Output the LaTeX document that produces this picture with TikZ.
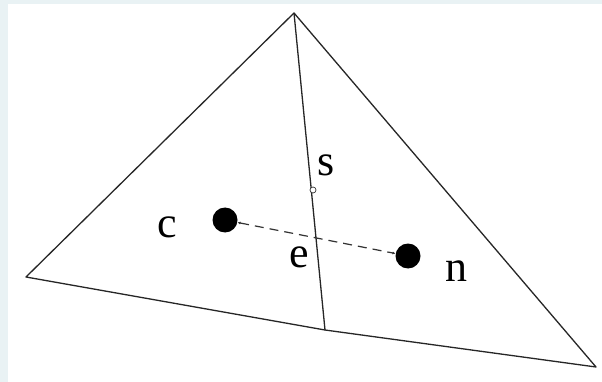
\documentclass[tikz,border=0pt]{standalone}
\usepackage{fontspec}
\setmainfont{Liberation Serif}
\usetikzlibrary{arrows.meta}
\definecolor{bgblue}{RGB}{233,242,244}
\tikzset{
  edgeline/.style={line width=1.3pt, black!85, line join=round},
  bigdot/.style={circle, fill=black, inner sep=0pt, minimum size=25pt},
  smalldot/.style={circle, draw=black!80, fill=white, line width=0.7pt, inner sep=0pt, minimum size=6pt},
  lbl/.style={font=\fontsize{44}{48}\selectfont, inner sep=0pt},
  flux/.style={dash pattern=on 9pt off 6pt, line width=1.2pt, black!80,
     {Latex[length=3pt,width=3pt]}-{Latex[length=3pt,width=3pt]}}
}
\begin{document}
\begin{tikzpicture}[x=1pt,y=-1pt]
\fill[bgblue] (0,0) rectangle (602,382);
\fill[white] (8,4) rectangle (602,382);
\useasboundingbox (0,0) rectangle (602,382);
% vertices
\coordinate (T) at (294,13);
\coordinate (L) at (26,277);
\coordinate (B) at (325,330);
\coordinate (R) at (596,367);
\draw[edgeline] (L) -- (T) -- (R) -- (B) -- cycle;
\draw[edgeline] (T) -- (B);
% points
\node[bigdot] (c) at (225,220) {};
\node[bigdot] (n) at (408,256) {};
\coordinate (e) at (316,238);
\node[smalldot] (s) at (313,190) {};
\draw[flux] (c) -- (n);
% labels
\node[lbl] (lc) at (167,227) {c};
\node[lbl] (ln) at (456,271) {n};
\node[lbl] (ls) at (326,165) {s};
\node[lbl] (le) at (299,257) {e};
\end{tikzpicture}
\end{document}
